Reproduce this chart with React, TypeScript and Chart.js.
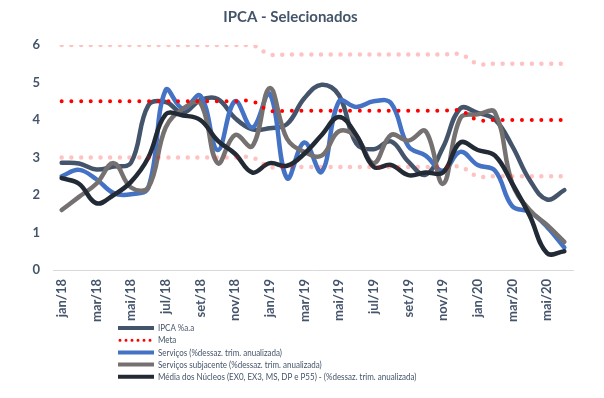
import React, { useEffect, useRef } from "react";
import { Chart, registerables } from "chart.js";

Chart.register(...registerables);

const categories = [
  "jan/18", "fev/18", "mar/18", "abr/18", "mai/18", "jun/18", "jul/18", "ago/18", "set/18", "out/18", "nov/18", "dez/18",
  "jan/19", "fev/19", "mar/19", "abr/19", "mai/19", "jun/19", "jul/19", "ago/19", "set/19", "out/19", "nov/19", "dez/19",
  "jan/20", "fev/20", "mar/20", "abr/20", "mai/20", "jun/20",
];

const ipca = [2.86, 2.84, 2.68, 2.76, 2.86, 4.39, 4.48, 4.19, 4.53, 4.56, 4.05, 3.75,
  3.78, 3.89, 4.58, 4.94, 4.66, 3.37, 3.22, 3.43, 2.89, 2.54, 3.27, 4.31,
  4.19, 4.01, 3.30, 2.40, 1.88, 2.13];

const meta = [4.5, 4.5, 4.5, 4.5, 4.5, 4.5, 4.5, 4.5, 4.5, 4.5, 4.5, 4.5,
  4.25, 4.25, 4.25, 4.25, 4.25, 4.25, 4.25, 4.25, 4.25, 4.25, 4.25, 4.25,
  4.0, 4.0, 4.0, 4.0, 4.0, 4.0];

const tetoMeta = [6.0, 6.0, 6.0, 6.0, 6.0, 6.0, 6.0, 6.0, 6.0, 6.0, 6.0, 6.0,
  5.75, 5.75, 5.75, 5.75, 5.75, 5.75, 5.75, 5.75, 5.75, 5.75, 5.75, 5.75,
  5.5, 5.5, 5.5, 5.5, 5.5, 5.5];

const pisoMeta = [3.0, 3.0, 3.0, 3.0, 3.0, 3.0, 3.0, 3.0, 3.0, 3.0, 3.0, 3.0,
  2.75, 2.75, 2.75, 2.75, 2.75, 2.75, 2.75, 2.75, 2.75, 2.75, 2.75, 2.75,
  2.5, 2.5, 2.5, 2.5, 2.5, 2.5];

const servicos = [2.5, 2.67, 2.42, 2.05, 2.02, 2.2, 4.8, 4.3, 4.65, 3.2, 4.5, 3.8,
  4.7, 2.45, 3.4, 2.62, 4.5, 4.35, 4.5, 4.45, 3.3, 3.05, 2.65, 3.15,
  2.8, 2.65, 1.7, 1.55, 1.15, 0.6];

const servicosSubjacente = [1.6, 1.95, 2.3, 2.85, 2.2, 2.2, 3.8, 4.3, 4.45, 2.85, 3.6, 3.3,
  4.85, 3.5, 3.15, 3.05, 3.7, 3.55, 2.85, 3.6, 3.45, 3.7, 2.3, 4.05,
  4.15, 4.2, 2.3, 1.6, 1.2, 0.75];

const mediaNucleos = [2.45, 2.3, 1.78, 2.0, 2.35, 3.0, 4.15, 4.12, 4.0, 3.45, 3.1, 2.6,
  2.85, 2.78, 3.1, 3.6, 4.08, 3.6, 2.75, 2.8, 2.53, 2.6, 2.6, 3.4,
  3.2, 3.05, 2.3, 1.45, 0.45, 0.5];

const yTicks = [0, 1, 2, 3, 4, 5, 6];

const FONT = "Lato, 'Open Sans', sans-serif";
const TEXT = "#44546A";

const legendPlugin = {
  id: "verticalLegend",
  afterDraw(chart: any) {
    const ctx = chart.ctx;
    const items = chart.data.datasets.filter((d: any) => !d.hideInLegend);
    ctx.save();
    const x0 = 118;
    const lineLen = 36;
    const yStart = 328;
    const step = 12.2;
    items.forEach((d: any, i: number) => {
      const y = yStart + i * step;
      ctx.beginPath();
      ctx.strokeStyle = d.borderColor;
      ctx.lineWidth = d.legendLineWidth || 4;
      ctx.lineCap = d.borderDash ? "round" : "butt";
      ctx.setLineDash(d.borderDash ? [0, 6] : []);
      ctx.moveTo(x0 + (d.borderDash ? 2 : 0), y);
      ctx.lineTo(x0 + lineLen, y);
      ctx.stroke();
      ctx.setLineDash([]);
      ctx.fillStyle = TEXT;
      ctx.font = `10px ${FONT}`;
      ctx.textBaseline = "middle";
      ctx.textAlign = "left";
      ctx.save();
      ctx.translate(x0 + lineLen + 4, y);
      ctx.scale(0.8, 1);
      ctx.fillText(d.label, 0, 0);
      ctx.restore();
    });
    ctx.restore();
  },
};

export default function App() {
  const ref = useRef<HTMLCanvasElement | null>(null);

  useEffect(() => {
    if (!ref.current) return;
    const line = (label: string, data: number[], color: string, order: number, extra: any = {}) => ({
      label,
      data,
      borderColor: color,
      backgroundColor: color,
      borderWidth: 4.5,
      pointRadius: 0,
      tension: 0.4,
      fill: false,
      borderCapStyle: "round",
      borderJoinStyle: "round",
      order,
      ...extra,
    });
    const chart = new Chart(ref.current, {
      type: "line",
      data: {
        labels: categories,
        datasets: [
          line("IPCA %a.a", ipca, "#44546A", 5),
          line("Meta", meta, "#FF0000", 1, { borderWidth: 4, borderDash: [0, 9.7], legendLineWidth: 3 }),
          line("Serviços (%dessaz. trim. anualizada)", servicos, "#4472C4", 4),
          line("Serviços subjacente (%dessaz. trim. anualizada)", servicosSubjacente, "#767171", 3),
          line("Média dos Núcleos (EX0, EX3, MS, DP e P55) - (%dessaz. trim. anualizada)", mediaNucleos, "#222A35", 2),
          line("Teto da meta", tetoMeta, "rgba(255,0,0,0.24)", 0, { borderWidth: 4.5, borderDash: [0, 9.7], hideInLegend: true }),
          line("Piso da meta", pisoMeta, "rgba(255,0,0,0.24)", 0, { borderWidth: 4.5, borderDash: [0, 9.7], hideInLegend: true }),
        ] as any,
      },
      options: {
        animation: false,
        responsive: false,
        maintainAspectRatio: false,
        layout: { padding: { left: 8, right: 31, top: 0, bottom: 0 } },
        plugins: {
          legend: { display: false },
          tooltip: { enabled: false },
          title: {
            display: true,
            text: "IPCA - Selecionados",
            color: TEXT,
            font: { family: FONT, size: 15, weight: "bold" },
            padding: { top: 8, bottom: 19 },
          },
        },
        scales: {
          x: {
            type: "category",
            offset: true,
            grid: { display: false, drawTicks: false },
            border: { display: true, color: "#D9D9D9", width: 1 },
            ticks: {
              autoSkip: false,
              minRotation: 90,
              maxRotation: 90,
              padding: 9,
              color: TEXT,
              font: { family: FONT, size: 13, weight: "bold" },
              callback: (_v: any, i: number) => (i % 2 === 0 ? categories[i] : ""),
            },
            afterFit: (s: any) => {
              s.height = 128;
            },
          },
          y: {
            min: 0,
            max: 6,
            afterBuildTicks: (s: any) => {
              s.ticks = yTicks.map((v) => ({ value: v }));
            },
            grid: { display: false, drawTicks: false },
            border: { display: false },
            ticks: {
              padding: 13,
              color: TEXT,
              font: { family: FONT, size: 13, weight: "bold" },
            },
            afterFit: (s: any) => {
              s.width = 45;
            },
          },
        },
      },
      plugins: [legendPlugin],
    } as any);
    return () => chart.destroy();
  }, []);

  return (
    <div style={{ position: "fixed", left: 0, top: 0, width: 604, height: 398, background: "#fff" }}>
      <canvas ref={ref} width={604} height={398} style={{ width: 604, height: 398 }} />
    </div>
  );
}
